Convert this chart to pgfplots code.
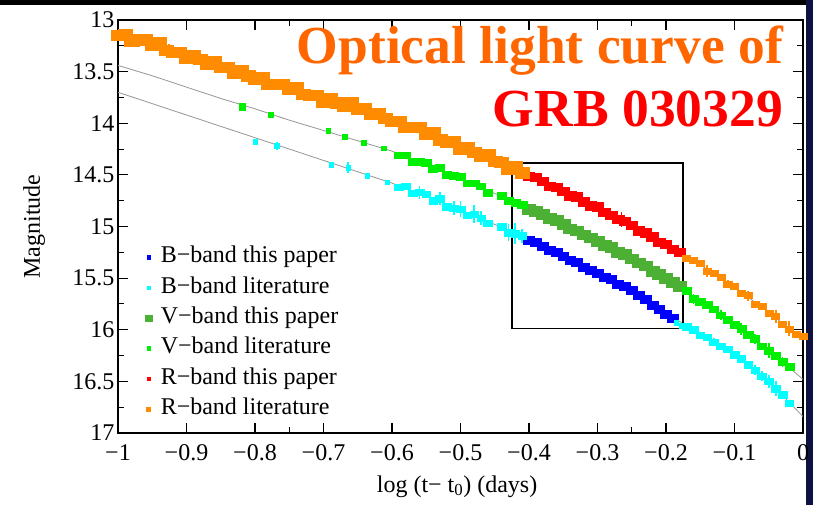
\documentclass[border=0pt]{standalone}
\usepackage{pgfplots}
\usepackage{pgfplotstable}
\pgfplotsset{compat=1.18}
\usepackage{fontspec}
\setmainfont{Liberation Serif}

\definecolor{Bthis}{RGB}{0,0,255}
\definecolor{Blit}{RGB}{0,255,255}
\definecolor{Vthis}{RGB}{76,176,52}
\definecolor{Vlit}{RGB}{0,238,0}
\definecolor{Rthis}{RGB}{255,0,0}
\definecolor{Rlit}{RGB}{255,140,0}
\definecolor{fitgray}{RGB}{150,150,150}
\definecolor{titleorange}{RGB}{255,102,0}
\definecolor{titlered}{RGB}{255,0,0}
\definecolor{slidenavy}{RGB}{14,18,64}

% broken power-law fits (R, V, B)
\pgfplotstableread{
x R V B
-1.00 13.13 13.44 13.70
-0.95 13.23 13.54 13.81
-0.90 13.34 13.65 13.92
-0.85 13.45 13.76 14.03
-0.80 13.55 13.86 14.14
-0.75 13.66 13.97 14.25
-0.70 13.76 14.07 14.36
-0.65 13.85 14.17 14.47
-0.60 13.96 14.27 14.58
-0.55 14.09 14.40 14.71
-0.50 14.22 14.53 14.84
-0.45 14.36 14.68 14.98
-0.40 14.50 14.82 15.12
-0.35 14.66 14.98 15.29
-0.30 14.82 15.14 15.45
-0.25 14.99 15.31 15.62
-0.20 15.18 15.50 15.84
-0.15 15.37 15.72 16.04
-0.10 15.59 15.94 16.23
-0.05 15.83 16.20 16.50
0.00 16.10 16.48 16.84
}\fits

% R band, literature (early)
\pgfplotstableread{
x y
-1.00 13.15
-0.99 13.14
-0.98 13.20
-0.97 13.19
-0.96 13.19
-0.95 13.24
-0.94 13.22
-0.93 13.29
-0.92 13.31
-0.91 13.31
-0.90 13.37
-0.89 13.34
-0.88 13.38
-0.87 13.43
-0.86 13.40
-0.85 13.46
-0.84 13.46
-0.83 13.51
-0.82 13.49
-0.81 13.54
-0.80 13.57
-0.79 13.56
-0.78 13.62
-0.77 13.62
-0.76 13.62
-0.75 13.67
-0.74 13.65
-0.73 13.72
-0.72 13.73
-0.71 13.73
-0.70 13.79
-0.69 13.76
-0.68 13.80
-0.67 13.83
-0.66 13.80
-0.65 13.86
-0.64 13.86
-0.63 13.91
-0.62 13.90
-0.61 13.95
-0.60 13.98
-0.59 13.98
-0.58 14.04
-0.57 14.04
-0.56 14.04
-0.55 14.10
-0.54 14.09
-0.53 14.16
-0.52 14.18
-0.51 14.18
-0.50 14.25
-0.49 14.23
-0.48 14.28
-0.47 14.32
-0.46 14.30
-0.45 14.37
-0.44 14.38
-0.43 14.44
-0.42 14.42
-0.41 14.48
}\Rlitearly

% R band, literature (late)
\pgfplotstableread{
x y
-0.17 15.31
-0.16 15.33
-0.15 15.36
-0.14 15.43
-0.13 15.45
-0.12 15.49
-0.11 15.56
-0.10 15.58
-0.09 15.65
-0.08 15.67
-0.07 15.75
-0.06 15.77
-0.05 15.84
-0.04 15.87
-0.03 15.95
-0.02 15.99
-0.01 16.04
0.00 16.06
}\Rlitlate

% R band, this paper
\pgfplotstableread{
x y
-0.40 14.51
-0.39 14.52
-0.38 14.56
-0.37 14.61
-0.36 14.62
-0.35 14.66
-0.34 14.70
-0.33 14.71
-0.32 14.76
-0.31 14.80
-0.30 14.81
-0.29 14.86
-0.28 14.89
-0.27 14.93
-0.26 14.95
-0.25 14.99
-0.24 15.04
-0.23 15.06
-0.22 15.10
-0.21 15.15
-0.20 15.17
-0.19 15.22
-0.18 15.25
}\Rthis

% V band, literature (sparse early points)
\pgfplotstableread{
x y
-0.777 13.92
-0.693 14.07
-0.669 14.13
-0.641 14.19
-0.612 14.24
}\Vlitsparse

% V band, literature (dense)
\pgfplotstableread{
x y
-0.59 14.31
-0.58 14.31
-0.57 14.37
-0.56 14.37
-0.55 14.38
-0.54 14.44
-0.53 14.43
-0.52 14.50
-0.51 14.51
-0.50 14.52
-0.49 14.58
-0.48 14.58
-0.47 14.61
-0.46 14.67
-0.44 14.70
-0.43 14.75
-0.42 14.77
-0.41 14.79
-0.17 15.62
-0.16 15.70
-0.15 15.73
-0.14 15.76
-0.13 15.80
-0.12 15.86
-0.11 15.90
-0.10 15.95
-0.09 15.99
-0.08 16.05
-0.07 16.09
-0.06 16.16
-0.05 16.20
-0.04 16.25
-0.03 16.31
-0.02 16.36
}\Vlit

% V band, this paper
\pgfplotstableread{
x y
-0.40 14.83
-0.39 14.85
-0.38 14.88
-0.37 14.92
-0.36 14.94
-0.35 14.98
-0.34 15.02
-0.33 15.04
-0.32 15.08
-0.31 15.11
-0.30 15.14
-0.29 15.18
-0.28 15.20
-0.27 15.25
-0.26 15.27
-0.25 15.31
-0.24 15.35
-0.23 15.38
-0.22 15.43
-0.21 15.46
-0.20 15.50
-0.19 15.54
-0.18 15.58
}\Vthis

% B band, literature (sparse early points)
\pgfplotstableread{
x y
-0.800 14.18
-0.768 14.22
-0.689 14.40
-0.664 14.43
-0.636 14.51
-0.607 14.57
-0.185 15.93
-0.177 15.96
}\Blitsparse

% B band, literature (dense)
\pgfplotstableread{
x y
-0.59 14.62
-0.58 14.61
-0.57 14.68
-0.56 14.67
-0.55 14.69
-0.54 14.75
-0.53 14.73
-0.52 14.81
-0.51 14.82
-0.50 14.83
-0.49 14.89
-0.48 14.88
-0.47 14.92
-0.46 14.97
-0.44 15.00
-0.43 15.06
-0.42 15.07
-0.41 15.09
-0.17 15.97
-0.16 16.00
-0.15 16.05
-0.14 16.07
-0.13 16.12
-0.12 16.16
-0.11 16.19
-0.10 16.24
-0.09 16.28
-0.08 16.34
-0.07 16.39
-0.06 16.45
-0.05 16.50
-0.04 16.57
-0.03 16.63
-0.02 16.71
}\Blit

% B band, this paper
\pgfplotstableread{
x y
-0.40 15.13
-0.39 15.15
-0.38 15.19
-0.37 15.23
-0.36 15.25
-0.35 15.29
-0.34 15.33
-0.33 15.35
-0.32 15.39
-0.31 15.42
-0.30 15.45
-0.29 15.49
-0.28 15.51
-0.27 15.56
-0.26 15.58
-0.25 15.62
-0.24 15.67
-0.23 15.70
-0.22 15.76
-0.21 15.80
-0.20 15.85
-0.19 15.89
}\Bthis

\newcommand{\legsq}[1]{\fill (-#1,-#1) rectangle (#1,#1); \path (0pt,0pt) (12pt,0pt);}

\pgfplotsset{
  band/.style 2 args={only marks, mark=square*, mark size=#2,
    color=#1, mark options={draw=#1, fill=#1, xscale=1.35}},
  dots/.style 2 args={only marks, mark=square*, mark size=#2,
    color=#1, mark options={draw=#1, fill=#1}},
  spikes/.style={forget plot, draw=none, mark=none,
    error bars/.cd, y dir=both, y explicit, error mark=none,
    error bar style={line width=1.8pt, draw=#1}},
}

\begin{document}
\begin{tikzpicture}[x=1pt,y=1pt]
\useasboundingbox (0,0) rectangle (813,505);
\fill[white] (0,0) rectangle (813,505);
\fill[black] (0,500) rectangle (813,505);
\fill[slidenavy] (806,0) rectangle (813,505);

\begin{axis}[
  at={(118pt,72pt)}, anchor=south west,
  scale only axis, width=685pt, height=413pt,
  xmin=-1, xmax=0, ymin=13, ymax=17, y dir=reverse,
  axis line style={line width=1.2pt},
  every tick/.style={black, line width=1.1pt},
  major tick length=10pt, minor tick length=6pt,
  tick align=inside,
  xtick={-1,-0.9,-0.8,-0.7,-0.6,-0.5,-0.4,-0.3,-0.2,-0.1,0},
  xticklabels={−1,−0.9,−0.8,−0.7,−0.6,−0.5,−0.4,−0.3,−0.2,−0.1,0},
  minor xtick={-0.75,-0.25},
  ytick={13,13.5,14,14.5,15,15.5,16,16.5,17},
  yticklabels={13,13.5,14,14.5,15,15.5,16,16.5,17},
  minor ytick={13.25,13.75,14.25,14.75,15.25,15.75,16.25,16.75},
  ticklabel style={font=\fontsize{24}{28}\selectfont},
  xticklabel style={yshift=-8pt},
  xlabel={log (t− t\textsubscript{0}) (days)},
  ylabel={Magnitude},
  label style={font=\fontsize{24}{28}\selectfont},
  x label style={at={(axis description cs:0.495,-0.143)}, anchor=base},
  y label style={at={(axis description cs:-0.114,0.5)}, anchor=base, rotate=0},
  legend cell align=left,
  legend style={at={(axis description cs:0.035,0.459)}, anchor=north west,
    draw=none, fill=none, font=\fontsize{24}{28}\selectfont,
    row sep=7.4pt, column sep=0pt,
    nodes={inner sep=0pt, text height=17pt, text depth=6pt}},
]
% data series (legend order)
\addplot[band={Bthis}{4pt}, legend image code/.code={\legsq{1.6pt}}] table[x=x,y=y] {\Bthis};
\addlegendentry{B−band this paper}
\addplot[band={Blit}{3.2pt}, legend image code/.code={\legsq{1.6pt}}] table[x=x,y=y] {\Blit};
\addlegendentry{B−band literature}
\addplot[band={Vthis}{4.8pt}, legend image code/.code={\legsq{3.2pt}}] table[x=x,y=y] {\Vthis};
\addlegendentry{V−band this paper}
\addplot[band={Vlit}{3.4pt}, legend image code/.code={\legsq{1.8pt}}] table[x=x,y=y] {\Vlit};
\addlegendentry{V−band literature}
\addplot[band={Rthis}{4.2pt}, legend image code/.code={\legsq{1.8pt}}] table[x=x,y=y] {\Rthis};
\addlegendentry{R−band this paper}
\addplot[band={Rlit}{5.2pt}, legend image code/.code={\legsq{2pt}}] table[x=x,y=y] {\Rlitearly};
\addlegendentry{R−band literature}

\addplot[band={Rlit}{3pt}, forget plot] table[x=x,y=y] {\Rlitlate};
\addplot[dots={Vlit}{2.3pt}, forget plot] table[x=x,y=y] {\Vlitsparse};
\addplot[dots={Vlit}{3.2pt}, forget plot] coordinates {(-0.819,13.84)};
\addplot[dots={Blit}{2.3pt}, forget plot] table[x=x,y=y] {\Blitsparse};

% scatter spikes
\addplot[spikes=Blit] coordinates {
  (-0.768,14.22) +- (0,0.04) (-0.664,14.43) +- (0,0.05)
  (-0.56,14.67) +- (0,0.06) (-0.53,14.73) +- (0,0.06) (-0.51,14.82) +- (0,0.07)
  (-0.50,14.83) +- (0,0.08) (-0.48,14.88) +- (0,0.09) (-0.47,14.92) +- (0,0.07)
  (-0.43,15.06) +- (0,0.08) (-0.42,15.07) +- (0,0.10) (-0.41,15.09) +- (0,0.07)
  (-0.13,16.12) +- (0,0.04) (-0.07,16.39) +- (0,0.05) (-0.06,16.45) +- (0,0.05)
  (-0.05,16.50) +- (0,0.06) (-0.04,16.57) +- (0,0.07)};
\addplot[spikes=Vlit] coordinates {
  (-0.16,15.70) +- (0,0.05) (-0.12,15.86) +- (0,0.05) (-0.09,15.99) +- (0,0.06)
  (-0.07,16.09) +- (0,0.05) (-0.05,16.20) +- (0,0.07) (-0.03,16.31) +- (0,0.05)};
\addplot[spikes=Rlit] coordinates {
  (-0.925,13.29) +- (0,0.06) (-0.745,13.66) +- (0,0.06) (-0.655,13.84) +- (0,0.05)
  (-0.425,14.47) +- (0,0.09)
  (-0.14,15.43) +- (0,0.06) (-0.11,15.56) +- (0,0.04) (-0.08,15.67) +- (0,0.05)
  (-0.04,15.87) +- (0,0.06) (-0.02,15.99) +- (0,0.07)};
\addplot[spikes=Rthis] coordinates {(-0.265,14.93) +- (0,0.07)};

% fitted curves
\addplot[forget plot, fitgray, line width=0.8pt] table[x=x,y=R] {\fits};
\addplot[forget plot, fitgray, line width=0.8pt] table[x=x,y=V] {\fits};
\addplot[forget plot, fitgray, line width=0.8pt] table[x=x,y=B] {\fits};

% window of the new observations
\addplot[forget plot, black, line width=1.3pt, line join=miter] coordinates {
  (-0.425,14.385) (-0.175,14.385) (-0.175,15.99) (-0.425,15.99) (-0.425,14.385) (-0.175,14.385)};
\end{axis}

% slide title
\begin{scope}[every node/.style={anchor=base east, inner sep=0pt,
    font=\fontsize{53.5}{60}\selectfont\bfseries}]
  \node[text=titleorange] at (783,441) {Optical light curve of};
  \node[text=titlered] at (783,378) {GRB 030329};
\end{scope}
\end{tikzpicture}
\end{document}
